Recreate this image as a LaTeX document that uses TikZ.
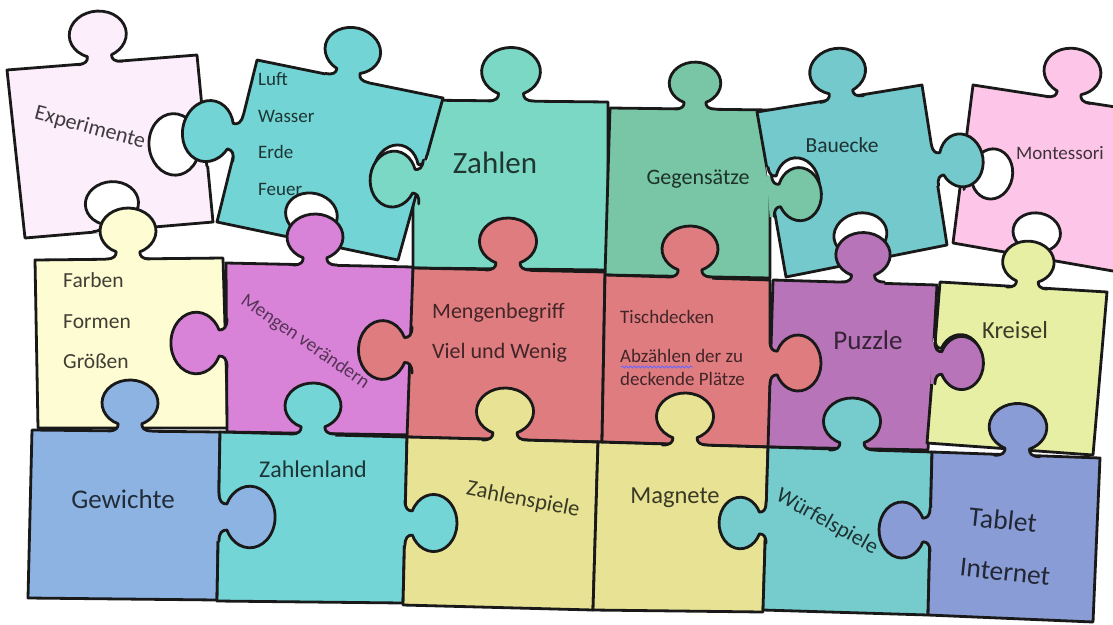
\documentclass[tikz,border=0pt]{standalone}
\usepackage{fontspec}
\setmainfont{Carlito}
\usetikzlibrary{decorations.pathmorphing}
\definecolor{cExp}{HTML}{FCEEFB}
\definecolor{cLuft}{HTML}{72D4D4}
\definecolor{cZahlen}{HTML}{7BD8C5}
\definecolor{cGeg}{HTML}{78C6A6}
\definecolor{cBau}{HTML}{73C9CB}
\definecolor{cMont}{HTML}{FDC6E9}
\definecolor{cFarb}{HTML}{FEFCD2}
\definecolor{cMag}{HTML}{D883D7}
\definecolor{cRed}{HTML}{DE7C80}
\definecolor{cPuz}{HTML}{B874B8}
\definecolor{cKrei}{HTML}{E6EFA3}
\definecolor{cGew}{HTML}{8DB3E2}
\definecolor{cZland}{HTML}{74D5D6}
\definecolor{cYel}{HTML}{E8E394}
\definecolor{cWuer}{HTML}{76CCCD}
\definecolor{cTab}{HTML}{8A9CD5}
\newcommand{\fsz}[1]{\fontsize{#1}{#1}\selectfont}
\newcommand{\knobpath}{(-22,0) .. controls (-14,0) and (-11.83,3) .. (-11.83,7.15) arc[start angle=245,end angle=-65,x radius=28,y radius=23] .. controls (11.83,3) and (14,0) .. (22,0)}
\newcommand{\knob}[5]{%
\begin{scope}[shift={(#1,-#2)},rotate=#3,scale=#4]
\fill[#5] (-22,-5) -- \knobpath -- (22,-5) -- cycle;
\draw[outl] \knobpath;
\end{scope}}
\newcommand{\hole}[4]{%
\begin{scope}[shift={(#1,-#2)},rotate=#3,scale=#4]
\fill[white] (-22,-2) -- \knobpath -- (22,-2) -- cycle;
\draw[outl] \knobpath;
\end{scope}}
\begin{document}
\begin{tikzpicture}[x=1pt,y=1pt,
  outl/.style={line width=2.8pt,line join=round,line cap=round,black!90},
  body/.style={outl},
  lbl/.style={inner sep=0pt}]
\useasboundingbox (0,0) rectangle (1113,-624);
\fill[white] (0,0) rectangle (1113,-624);
% ---- row 1 bodies
\draw[body,fill=cExp] (7,-70) -- (197,-55) -- (213,-222) -- (25,-238) -- cycle;
\draw[body,fill=cZahlen] (413,-100) -- (608,-102) -- (608,-270) -- (413,-268) -- cycle;
\draw[body,fill=cGeg] (610,-108) -- (770,-110) -- (770,-278) -- (605,-275) -- cycle;
\draw[body,fill=cMont] (973,-85) -- (1135,-110) -- (1130,-274) -- (953,-243) -- cycle;
\draw[body,fill=cLuft] (257,-60) -- (443,-98) -- (398,-260) -- (217,-222) -- cycle;
\draw[body,fill=cBau] (757,-112) -- (922,-85) -- (947,-245) -- (786,-277) -- cycle;
% ---- row 2 bodies
\draw[body,fill=cFarb] (35,-260) -- (223,-258) -- (228,-428) -- (38,-428) -- cycle;
\draw[body,fill=cMag] (226,-263) -- (413,-267) -- (412,-435) -- (227,-432) -- cycle;
\draw[body,fill=cRed] (413,-268) -- (605,-272) -- (602,-442) -- (407,-437) -- cycle;
\draw[body,fill=cRed] (605,-275) -- (770,-280) -- (770,-447) -- (602,-442) -- cycle;
\draw[body,fill=cPuz] (773,-280) -- (937,-285) -- (928,-450) -- (768,-447) -- cycle;
\draw[body,fill=cKrei] (940,-282) -- (1107,-292) -- (1093,-455) -- (927,-443) -- cycle;
% ---- row 3 bodies
\draw[body,fill=cGew] (32,-430) -- (220,-432) -- (217,-600) -- (28,-598) -- cycle;
\draw[body,fill=cZland] (220,-432) -- (407,-437) -- (403,-603) -- (217,-601) -- cycle;
\draw[body,fill=cYel] (407,-437) -- (598,-442) -- (593,-610) -- (403,-605) -- cycle;
\draw[body,fill=cYel] (598,-442) -- (768,-447) -- (763,-612) -- (593,-610) -- cycle;
\draw[body,fill=cWuer] (768,-447) -- (932,-452) -- (928,-615) -- (763,-610) -- cycle;
\draw[body,fill=cTab] (932,-452) -- (1100,-458) -- (1093,-622) -- (928,-615) -- cycle;
% ---- texts
\node[lbl,rotate=-15,text=cExp!25!black,font=\fsz{22}] (exp) at (90,-128) {Experimente};
\begin{scope}[every node/.style={lbl,anchor=base west,text=cLuft!25!black,font=\fsz{19}}]
\node (luft) at (258,-85) {Luft};
\node (wasser) at (258,-122) {Wasser};
\node (erde) at (258,-158) {Erde};
\node (feuer) at (258,-195) {Feuer};
\end{scope}
\node[lbl,anchor=base,text=cZahlen!25!black,font=\fsz{31}] (zahlen) at (495,-173) {Zahlen};
\node[lbl,anchor=base,text=cGeg!25!black,font=\fsz{22}] (geg) at (698,-184) {Gegensätze};
\node[lbl,anchor=base,text=cBau!25!black,font=\fsz{21.5}] (bau) at (842,-152) {Bauecke};
\node[lbl,anchor=base,text=cMont!25!black,font=\fsz{19}] (mont) at (1060,-159) {Montessori};
\begin{scope}[every node/.style={lbl,anchor=base west,text=cFarb!25!black,font=\fsz{21.5}}]
\node (farben) at (63,-287) {Farben};
\node (formen) at (63,-328) {Formen};
\node (groessen) at (63,-368) {Größen};
\end{scope}
\node[lbl,rotate=-34.6,text=cMag!40!black,font=\fsz{19.5}] (mengen) at (305,-342) {Mengen verändern};
\begin{scope}[every node/.style={lbl,anchor=base west,text=cRed!30!black,font=\fsz{22}}]
\node (mbeg) at (432,-318) {Mengenbegriff};
\node (viel) at (432,-358) {Viel und Wenig};
\end{scope}
\begin{scope}[every node/.style={lbl,anchor=base west,text=cRed!30!black,font=\fsz{19}}]
\node (tisch) at (620,-323) {Tischdecken};
\node (abz) at (620,-362) {Abzählen der zu};
\node (deck) at (620,-385) {deckende Plätze};
\end{scope}
\draw[blue!60!white,line width=0.8pt,decorate,decoration={snake,amplitude=1.1pt,segment length=4pt}] (621,-367) -- (693,-367);
\node[lbl,anchor=base,text=cPuz!30!black,font=\fsz{27}] (puzzle) at (868,-349) {Puzzle};
\node[lbl,anchor=base,text=cKrei!25!black,font=\fsz{24.5}] (kreisel) at (1015,-338) {Kreisel};
\node[lbl,anchor=base,text=cGew!25!black,font=\fsz{27}] (gew) at (123,-508) {Gewichte};
\node[lbl,anchor=base,text=cZland!25!black,font=\fsz{24}] (zland) at (313,-477) {Zahlenland};
\node[lbl,rotate=-11,text=cYel!25!black,font=\fsz{22.5}] (zspiele) at (523,-500) {Zahlenspiele};
\node[lbl,anchor=base,text=cYel!25!black,font=\fsz{24.5}] (magnete) at (675,-503) {Magnete};
\node[lbl,rotate=-29,text=cWuer!25!black,font=\fsz{22}] (wuerfel) at (827,-522) {Würfelspiele};
\node[lbl,rotate=-6,text=cTab!25!black,font=\fsz{27.5}] (tablet) at (1003,-520) {Tablet};
\node[lbl,rotate=-6,text=cTab!25!black,font=\fsz{27.5}] (internet) at (1005,-572) {Internet};
% ---- holes
\hole{205}{142}{94.5}{1.1}
\hole{114}{230}{4.5}{0.95}
\hole{423}{177}{80}{0.98}
\hole{306}{240}{-12}{0.93}
\hole{771}{188}{-82}{0.95}
\hole{865}{261}{10}{0.95}
\hole{967}{170}{-99}{0.9}
\hole{1033}{256}{-9}{0.85}
\hole{934}{359}{-93.5}{0.93}
% ---- knobs
\knob{100}{63}{4.5}{1.02}{cExp}
\knob{347}{78}{-12}{1}{cLuft}
\knob{238}{138}{77}{1.1}{cLuft}
\knob{511}{101}{0}{1.05}{cZahlen}
\knob{421}{182}{84}{1}{cZahlen}
\knob{695}{109}{0}{0.92}{cGeg}
\knob{773}{196}{-86}{0.95}{cGeg}
\knob{842}{99}{9}{1}{cBau}
\knob{935}{165}{-80}{0.95}{cBau}
\knob{1068}{100}{-9}{1.02}{cMont}
\knob{128}{259}{0}{1}{cFarb}
\knob{315}{265}{0}{1}{cMag}
\knob{227}{343}{90}{1.1}{cMag}
\knob{508}{270}{0}{1.02}{cRed}
\knob{412}{350}{90}{1.05}{cRed}
\knob{690}{277}{0}{1}{cRed}
\knob{770}{363}{-90}{1}{cRed}
\knob{863}{282}{0}{0.97}{cPuz}
\knob{935}{363}{-90}{0.95}{cPuz}
\knob{1027}{288}{-3}{0.92}{cKrei}
\knob{130}{431}{0}{1}{cGew}
\knob{219}{517}{-90}{1.1}{cGew}
\knob{313}{434}{0}{1}{cZland}
\knob{405}{523}{-90}{1.02}{cZland}
\knob{505}{440}{0}{1.02}{cYel}
\knob{685}{445}{0}{1.02}{cYel}
\knob{852}{450}{0}{1.02}{cWuer}
\knob{766}{523}{90}{0.92}{cWuer}
\knob{1017}{456}{-2}{1.03}{cTab}
\knob{930}{530}{90}{1}{cTab}
\end{tikzpicture}
\end{document}
